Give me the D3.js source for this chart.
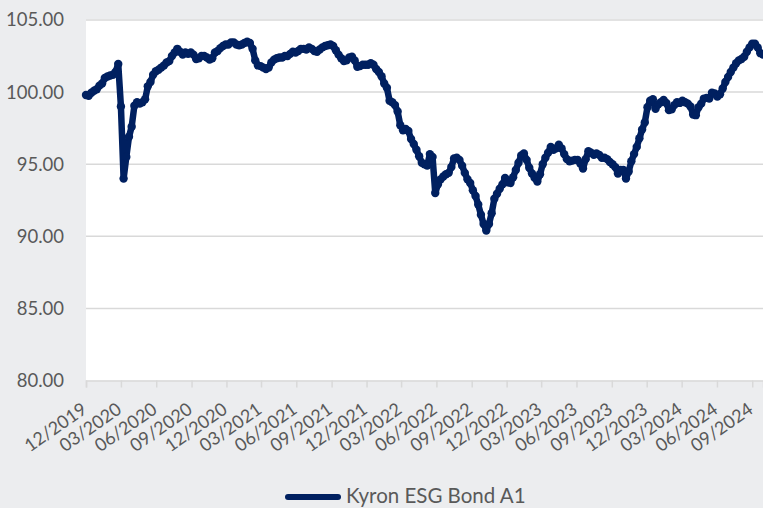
<!DOCTYPE html>
<html>
<head>
<meta charset="utf-8">
<script src="https://cdn.jsdelivr.net/npm/d3@7"></script>
<style>
  html, body { margin: 0; padding: 0; background: #ecedef; }
  svg { display: block; }
  text { font-family: Lato, "Open Sans", sans-serif; fill: #595959; }
</style>
</head>
<body>
<svg id="chart" width="763" height="508"></svg>
<script>
// ---- data (weekly values) ----
const seriesName = "Kyron ESG Bond A1";
const startDate = "2019-12-01";
const stepDays = 7;
const values = [
  99.8, 99.75, 99.95, 100.1, 100.2, 100.45, 100.6, 100.98, 101.08, 101.15,
  101.2, 101.4, 101.95, 99.0, 94.0, 95.5, 96.9, 97.6, 99.05, 99.3,
  99.2, 99.3, 99.5, 100.4, 100.7, 101.2, 101.45, 101.55, 101.7, 101.85,
  102.05, 102.15, 102.5, 102.75, 103.0, 102.8, 102.6, 102.75, 102.65, 102.75,
  102.6, 102.3, 102.35, 102.5, 102.5, 102.4, 102.25, 102.35, 102.75, 102.85,
  103.05, 103.2, 103.3, 103.3, 103.45, 103.45, 103.3, 103.25, 103.3, 103.4,
  103.5, 103.4, 103.0, 102.2, 101.85, 101.8, 101.7, 101.6, 101.7, 102.05,
  102.25, 102.35, 102.4, 102.4, 102.5, 102.5, 102.65, 102.8, 102.75, 102.85,
  103.0, 103.0, 102.95, 103.1, 103.0, 102.85, 102.8, 102.95, 103.1, 103.2,
  103.25, 103.3, 103.2, 102.9, 102.6, 102.35, 102.15, 102.2, 102.4, 102.45,
  102.2, 101.75, 101.8, 101.9, 101.9, 101.9, 102.0, 101.9, 101.6, 101.4,
  101.1, 100.6, 100.3, 99.4, 99.3, 99.1, 98.65, 97.7, 97.35, 97.45,
  97.3, 96.75, 96.4, 96.0, 95.55, 95.1, 95.0, 94.9, 95.7, 95.5,
  93.0, 93.6, 93.95, 94.15, 94.3, 94.4, 94.8, 95.4, 95.45, 95.3,
  94.9, 94.4, 93.95, 93.7, 93.2, 92.8, 92.2, 91.5, 90.85, 90.4,
  90.85, 91.6, 92.6, 92.95, 93.3, 93.6, 94.05, 93.75, 93.7, 94.1,
  94.6, 95.1, 95.6, 95.75, 95.3, 94.75, 94.35, 94.05, 93.8, 94.3,
  95.0, 95.45, 95.8, 96.2, 96.0, 96.1, 96.35, 96.1, 95.7, 95.35,
  95.2, 95.25, 95.3, 95.3, 95.05, 94.7, 95.35, 95.9, 95.8, 95.65,
  95.75, 95.65, 95.45, 95.45, 95.35, 95.15, 95.0, 94.8, 94.35, 94.6,
  94.6, 94.0, 94.5, 95.2, 95.7, 96.2, 96.8, 97.4, 97.9, 98.95,
  99.4, 99.5, 98.85, 99.15, 99.3, 99.45, 99.25, 98.75, 98.8, 99.1,
  99.3, 99.25, 99.4, 99.3, 99.2, 99.0, 98.45, 98.4, 98.95, 99.2,
  99.55, 99.6, 99.55, 99.95, 99.9, 99.7, 99.85, 100.25, 100.7, 101.05,
  101.4, 101.7, 102.0, 102.2, 102.3, 102.45, 102.8, 103.1, 103.35, 103.35,
  103.1, 102.7, 102.6
];
const yTicks = [80, 85, 90, 95, 100, 105];
const xTickLabels = ["12/2019","03/2020","06/2020","09/2020","12/2020","03/2021","06/2021",
  "09/2021","12/2021","03/2022","06/2022","09/2022","12/2022","03/2023","06/2023",
  "09/2023","12/2023","03/2024","06/2024","09/2024"];

// ---- build ----
const parseDay = d3.utcParse("%Y-%m-%d");
const parseMonth = d3.utcParse("%m/%Y");
const t0 = parseDay(startDate);
const data = values.map((v, i) => ({ date: d3.utcDay.offset(t0, i * stepDays), value: v }));

const svg = d3.select("#chart");
const plotLeft = 86, plotRight = 763, plotTop = 20, plotBottom = 380.5;

const x = d3.scaleUtc()
  .domain([data[0].date, data[data.length - 1].date])
  .range([plotLeft, plotRight]);
const y = d3.scaleLinear().domain([80, 105]).range([plotBottom, plotTop]);

// plot area
svg.append("rect")
  .attr("x", plotLeft).attr("y", plotTop - 1)
  .attr("width", plotRight - plotLeft).attr("height", plotBottom - plotTop + 1)
  .attr("fill", "#ffffff");

// gridlines
svg.append("g")
  .selectAll("line")
  .data(yTicks.filter(d => d !== 80))
  .join("line")
  .attr("x1", plotLeft).attr("x2", plotRight)
  .attr("y1", d => y(d)).attr("y2", d => y(d))
  .attr("stroke", "#d9d9d9").attr("stroke-width", 1.5);

// y labels
svg.append("g")
  .selectAll("text")
  .data(yTicks)
  .join("text")
  .attr("x", 64)
  .attr("y", d => y(d))
  .attr("dy", "0.35em")
  .attr("text-anchor", "end")
  .attr("font-size", 18.5)
  .text(d => d3.format(".2f")(d));

// x axis
const tickDates = xTickLabels.map(s => parseMonth(s));
const xAxis = d3.axisBottom(x)
  .tickValues(tickDates)
  .tickSize(7)
  .tickFormat("");
const gx = svg.append("g").attr("transform", `translate(0,${plotBottom})`).call(xAxis);
gx.select(".domain").attr("stroke", "#d9d9d9").attr("stroke-width", 1.5);
gx.selectAll(".tick line").attr("stroke", "#d9d9d9").attr("stroke-width", 1.5);

svg.append("g")
  .selectAll("text")
  .data(xTickLabels)
  .join("text")
  .attr("transform", (d, i) => `translate(${x(tickDates[i]) + 2},412) rotate(-35)`)
  .attr("text-anchor", "end")
  .attr("font-size", 18)
  .text(d => d);

// series line
const navy = "#002060";
svg.append("path")
  .datum(data)
  .attr("fill", "none")
  .attr("stroke", navy)
  .attr("stroke-width", 6.5)
  .attr("stroke-linejoin", "round")
  .attr("stroke-linecap", "round")
  .attr("d", d3.line().x(d => x(d.date)).y(d => y(d.value)));

svg.append("g")
  .selectAll("circle")
  .data(data)
  .join("circle")
  .attr("cx", d => x(d.date))
  .attr("cy", d => y(d.value))
  .attr("r", 4.2)
  .attr("fill", navy);

// legend
svg.append("line")
  .attr("x1", 288).attr("x2", 338)
  .attr("y1", 497).attr("y2", 497)
  .attr("stroke", navy).attr("stroke-width", 6).attr("stroke-linecap", "round");
svg.append("text")
  .attr("x", 346).attr("y", 503)
  .attr("font-size", 20.5)
  .text(seriesName);
</script>
</body>
</html>
